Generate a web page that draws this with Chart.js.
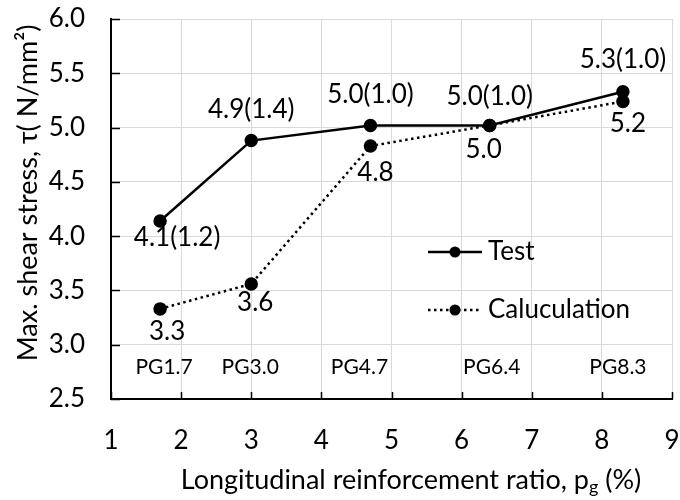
<!DOCTYPE html>
<html>
<head>
<meta charset="utf-8">
<script src="https://cdn.jsdelivr.net/npm/chart.js@4.4.1/dist/chart.umd.min.js"></script>
<style>
  html, body { margin: 0; padding: 0; background: #fff; }
</style>
</head>
<body>
<canvas id="chart" width="680" height="500"></canvas>
<script>
// Specimens and their longitudinal reinforcement ratio pg (%)
const specimens = ['PG1.7', 'PG3.0', 'PG4.7', 'PG6.4', 'PG8.3'];
const ratios = [1.7, 3.0, 4.7, 6.4, 8.3];

// Max. shear stress (N/mm2)
const testStress = [4.14, 4.88, 5.02, 5.02, 5.33];
const testBracket = [1.2, 1.4, 1.0, 1.0, 1.0];
const calcStress = [3.33, 3.56, 4.83, 5.02, 5.24];

// Axis ticks
const xTicks = [1, 2, 3, 4, 5, 6, 7, 8, 9];
const yTicks = [2.5, 3.0, 3.5, 4.0, 4.5, 5.0, 5.5, 6.0];

const FONT = 'Lato, "DejaVu Sans", sans-serif';
const DOTS = [2.5, 3.5];

// label placement around each point (text centre, px from the point)
const testLabelPos = [[17, 17], [0, -31], [0, -31], [0, -29], [0, -32]];
const calcLabelPos = [[7, 23], [4, 19], [5, 27], [-6, 24], [5, 22]];
const specimenShift = [4, -1, -11, 2, -5];
const specimenRowY = 2.79;

function toPoints(xs, ys) {
  return xs.map(function (x, i) { return { x: x, y: ys[i] }; });
}

// fixed axis box sizes, no label overflow padding
function fixBox(size) {
  return function (s) {
    if (s.isHorizontal()) s.height = size; else s.width = size;
    s.paddingTop = s.paddingBottom = s.paddingLeft = s.paddingRight = 0;
  };
}

const extras = {
  id: 'extras',
  beforeDatasetsDraw: function (chart) {
    const ctx = chart.ctx;
    const a = chart.chartArea;
    const sx = chart.scales.x;
    const sy = chart.scales.y;
    ctx.save();
    ctx.strokeStyle = '#000';
    ctx.lineWidth = 1.5;
    // short inside tick marks
    xTicks.forEach(function (v) {
      const px = Math.round(sx.getPixelForValue(v)) + 0.5;
      ctx.beginPath();
      ctx.moveTo(px, a.bottom);
      ctx.lineTo(px, a.bottom - 7);
      ctx.stroke();
    });
    yTicks.forEach(function (v) {
      const py = Math.round(sy.getPixelForValue(v)) + 0.5;
      ctx.beginPath();
      ctx.moveTo(a.left, py);
      ctx.lineTo(a.left + 9, py);
      ctx.stroke();
    });
    ctx.restore();
  },
  afterDatasetsDraw: function (chart) {
    const ctx = chart.ctx;
    const sx = chart.scales.x;
    const sy = chart.scales.y;
    ctx.save();
    ctx.fillStyle = '#000';
    ctx.textAlign = 'center';
    ctx.textBaseline = 'middle';

    // value labels
    ctx.font = '26px ' + FONT;
    const testMeta = chart.getDatasetMeta(0).data;
    const calcMeta = chart.getDatasetMeta(1).data;
    testMeta.forEach(function (p, i) {
      const txt = testStress[i].toFixed(1) + '(' + testBracket[i].toFixed(1) + ')';
      ctx.fillText(txt, p.x + testLabelPos[i][0], p.y + testLabelPos[i][1]);
    });
    calcMeta.forEach(function (p, i) {
      ctx.fillText(calcStress[i].toFixed(1), p.x + calcLabelPos[i][0], p.y + calcLabelPos[i][1]);
    });

    // specimen names
    ctx.font = '21px ' + FONT;
    specimens.forEach(function (s, i) {
      ctx.fillText(s, sx.getPixelForValue(ratios[i]) + specimenShift[i], sy.getPixelForValue(specimenRowY));
    });

    // legend
    const lx0 = 428, lx1 = 482, tx = 488;
    const rows = [
      { y: 252, dash: [], width: 2.5, label: 'Test' },
      { y: 310, dash: DOTS, width: 2.5, label: 'Caluculation' }
    ];
    rows.forEach(function (r) {
      ctx.beginPath();
      ctx.setLineDash(r.dash);
      ctx.lineWidth = r.width;
      ctx.strokeStyle = '#000';
      ctx.moveTo(lx0, r.y);
      ctx.lineTo(lx1, r.y);
      ctx.stroke();
      ctx.setLineDash([]);
      ctx.beginPath();
      ctx.arc((lx0 + lx1) / 2, r.y, 5.5, 0, Math.PI * 2);
      ctx.fill();
      ctx.textAlign = 'left';
      ctx.font = '26px ' + FONT;
      ctx.fillText(r.label, tx, r.y);
    });

    // y axis title
    ctx.save();
    ctx.translate(28, 193);
    ctx.rotate(-Math.PI / 2);
    ctx.textAlign = 'center';
    ctx.font = '27px ' + FONT;
    ctx.fillText('Max. shear stress, \u03c4( N/mm\u00b2)', 0, 0);
    ctx.restore();

    // x axis title with subscript
    const parts = ['Longitudinal reinforcement ratio, p', 'g', ' (%)'];
    ctx.textAlign = 'left';
    ctx.font = '27px ' + FONT;
    const w0 = ctx.measureText(parts[0]).width;
    const w2 = ctx.measureText(parts[2]).width;
    ctx.font = '18px ' + FONT;
    const w1 = ctx.measureText(parts[1]).width;
    let x = 411 - (w0 + w1 + w2) / 2;
    const y = 480;
    ctx.font = '27px ' + FONT;
    ctx.fillText(parts[0], x, y);
    x += w0;
    ctx.font = '18px ' + FONT;
    ctx.fillText(parts[1], x, y + 7);
    x += w1;
    ctx.font = '27px ' + FONT;
    ctx.fillText(parts[2], x, y);
    ctx.restore();
  }
};

new Chart(document.getElementById('chart'), {
  type: 'scatter',
  data: {
    datasets: [
      {
        label: 'Test',
        data: toPoints(ratios, testStress),
        showLine: true,
        borderColor: '#000',
        backgroundColor: '#000',
        borderWidth: 2.5,
        pointRadius: 5.5,
        pointHoverRadius: 5.5
      },
      {
        label: 'Caluculation',
        data: toPoints(ratios, calcStress),
        showLine: true,
        borderColor: '#000',
        backgroundColor: '#000',
        borderWidth: 2.5,
        borderDash: DOTS,
        pointRadius: 5.5,
        pointHoverRadius: 5.5
      }
    ]
  },
  options: {
    responsive: false,
    animation: false,
    devicePixelRatio: 1,
    layout: { padding: { top: 19, right: 4, left: 0, bottom: 0 } },
    plugins: {
      legend: { display: false },
      tooltip: { enabled: false }
    },
    scales: {
      x: {
        type: 'linear',
        min: 1,
        max: 9,
        afterBuildTicks: function (s) { s.ticks = xTicks.map(function (v) { return { value: v }; }); },
        afterFit: fixBox(101),
        grid: { color: '#d9d9d9', lineWidth: 1, drawTicks: false },
        border: { color: '#000', width: 2 },
        ticks: {
          padding: 26,
          color: '#000',
          font: { family: FONT, size: 26 },
          callback: function (v) { return String(v); }
        }
      },
      y: {
        min: 2.5,
        max: 6.0,
        afterBuildTicks: function (s) { s.ticks = yTicks.map(function (v) { return { value: v }; }); },
        afterFit: fixBox(111),
        grid: { color: '#d9d9d9', lineWidth: 1, drawTicks: false },
        border: { color: '#000', width: 2 },
        ticks: {
          padding: 26,
          color: '#000',
          font: { family: FONT, size: 26 },
          callback: function (v) { return Number(v).toFixed(1); }
        }
      }
    }
  },
  plugins: [extras]
});
</script>
</body>
</html>
